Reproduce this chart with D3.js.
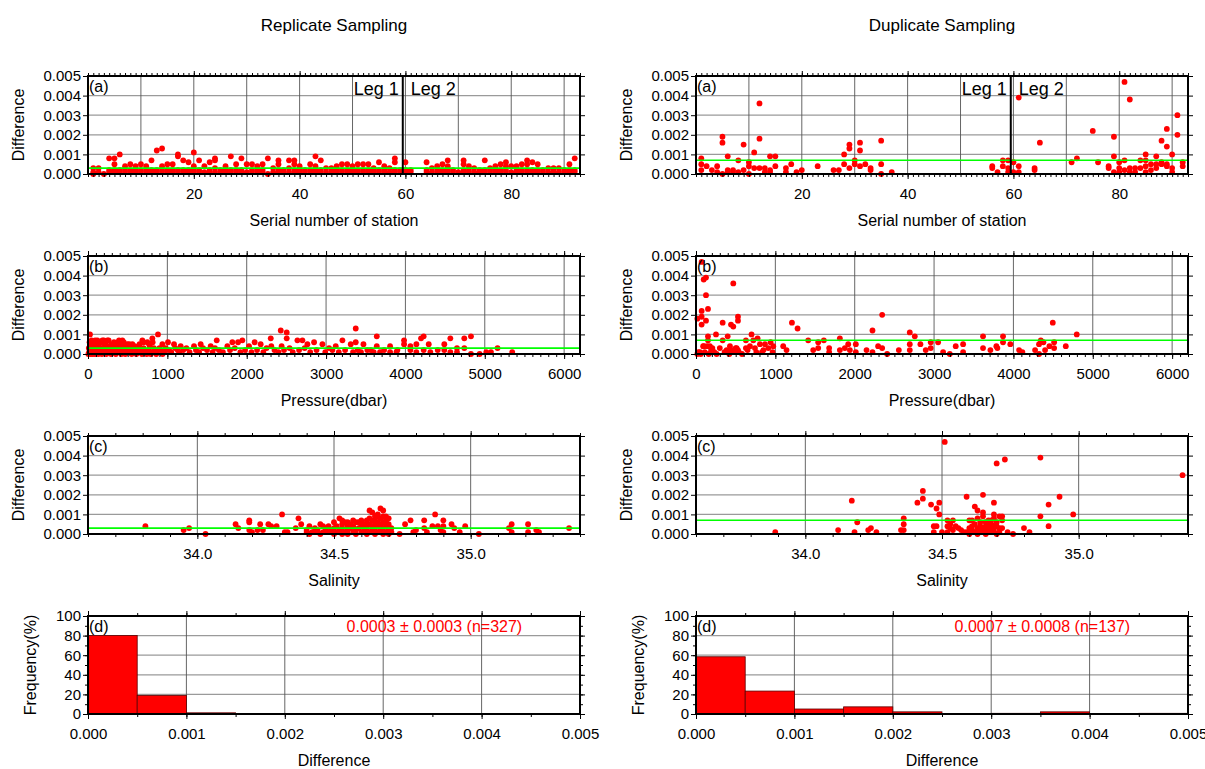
<!DOCTYPE html>
<html>
<head>
<meta charset="utf-8">
<script src="https://cdn.jsdelivr.net/npm/d3@7"></script>
<style>
body { margin: 0; background: #fff; }
</style>
</head>
<body>
<div id="chart"></div>
<script>
// differences are written in units of 1e-4

// replicate sampling: station, then the differences found there
var repStationRows = [
  [1,3,1,0],[2,3,1],[3,0],[4,8,1,2],[5,8,5,1,2],[6,10,2,1],[7,4,1,2],[8,5,2,1],[9,4,1,2],[10,5,2,1],
  [11,4,1,2],[12,7,1,2],[13,12,2,1],[14,13,4,1,2],[15,5,1,2],[16,5,2,1],[17,10,9,2,1],[18,7,2,1],[19,6,1,2],[20,11,4,1,2],
  [21,7,2,1],[22,4,1],[23,6,2,1],[24,8,7,3,1],[25,2,1],[26,4,1,2],[27,9,2,1],[28,5,1,2],[29,8,2,1],[30,5,1],
  [31,5,2,1],[32,4,1,2],[33,5,2,1],[34,8,0],[35,3,1],[36,7,5,2,1],[37,2,1],[38,7,3,1],[39,7,5,2,1],[40,4,1,2],
  [41,2,1],[42,5,2,1],[43,9,4,2,1],[44,7,2,1],[45,3,1],[46,3,2,1],[47,4,1,2],[48,5,2,1],[49,5,1,2],[50,4,2,1],
  [51,5,1,2],[52,5,2,1],[53,5,1,2],[54,3,2,1],[55,6,2,1],[56,4,1,2],[57,3,1],[58,8,6,2,1],[59,1,2],[60,6,1,2],
  [61,2,1],[64,6,2,1],[65,3,1],[66,4,2,1],[67,5,1,2],[68,7,4,2,1],[69,2,1],[70,1],[71,7,5,2,1],[72,4,1,2],
  [73,3,1],[74,2,1],[75,7,2,1],[76,3,1,2],[77,4,2,1],[78,5,1,2],[79,6,4,2,1],[80,4,1],[81,4,2,1],[82,5,1,2],
  [83,7,5,2,1],[84,6,2,1],[85,5,1,2],[86,2,1],[87,3,1],[88,3,1,2],[89,3,1],[90,1,2],[91,5,2,1],[92,8,2,1]
];

// replicate sampling: [pressure (dbar), difference]
var repPressure = [
  [5,0],[10,3],[15,1],[20,6],[25,10],[25,5],[30,2],[35,0],[40,4],[45,7],[50,1],[55,3],[60,0],[65,2],[70,6],[75,5],[80,1],
  [90,7],[90,0],[97,5],[100,2],[110,3],[118,7],[125,1],[130,6],[130,0],[140,4],[150,2],[160,6],[170,1],[175,0],[181,7],
  [190,3],[200,2],[200,7],[210,5],[220,1],[225,6],[230,0],[235,3],[244,7],[250,2],[260,7],[265,4],[280,1],[290,0],
  [295,3],[300,5],[310,2],[320,4],[328,6],[340,1],[350,0],[355,4],[370,2],[380,6],[391,7],[400,3],[410,5],[415,1],
  [420,0],[433,7],[445,2],[450,6],[460,4],[470,0],[480,1],[496,5],[510,3],[520,5],[525,2],[540,1],[550,0],[559,5],
  [575,3],[590,4],[600,2],[610,0],[620,1],[640,4],[650,5],[660,2],[680,0],[685,7],[700,3],[700,6],[720,1],[740,0],
  [748,6],[760,2],[770,5],[780,4],[790,0],[800,1],[811,8],[815,6],[830,3],[850,2],[860,0],[870,1],[882,10],[900,3],
  [920,2],[937,5],[940,0],[960,1],[980,3],[1008,6],[1020,2],[1050,1],[1084,5],[1100,3],[1130,2],[1150,1],[1168,4],
  [1200,2],[1240,3],[1280,1],[1336,4],[1360,2],[1400,1],[1420,5],[1450,3],[1500,2],[1546,4],[1570,1],[1600,3],
  [1622,7],[1650,2],[1700,1],[1756,4],[1790,2],[1819,6],[1850,3],[1891,6],[1920,1],[1945,7],[1980,2],[2029,4],
  [2060,1],[2100,6],[2130,2],[2176,5],[2210,1],[2250,3],[2303,8],[2310,4],[2350,2],[2400,1],[2429,12],[2440,4],
  [2470,2],[2504,11],[2504,8],[2540,3],[2580,1],[2639,7],[2660,2],[2702,7],[2730,3],[2765,5],[2800,1],[2849,6],
  [2880,2],[2954,5],[2990,1],[3038,3],[3080,2],[3122,4],[3160,1],[3206,7],[3240,2],[3311,5],[3340,1],[3374,13],
  [3374,6],[3400,2],[3440,1],[3471,5],[3520,2],[3563,2],[3600,1],[3639,9],[3639,4],[3680,1],[3731,2],[3807,4],
  [3807,1],[3887,1],[3899,2],[3983,7],[3983,5],[4063,4],[4063,2],[4138,5],[4138,1],[4197,8],[4230,9],[4230,2],
  [4294,5],[4314,1],[4407,2],[4490,5],[4490,2],[4566,8],[4566,1],[4650,3],[4650,1],[4742,8],[4742,3],[4826,9],
  [4826,0],[4935,0],[5019,1],[5078,1],[5161,3],[5346,1]
];

// replicate sampling: [salinity, difference]
var repSalinity = [
  [33.81,4],[33.95,2],[33.97,3],[34.03,0],[34.14,5],[34.15,3],[34.19,7],[34.19,6],[34.19,2],[34.2,1],[34.22,2],
  [34.23,5],[34.24,2],[34.26,5],[34.27,4],[34.29,4],[34.31,10],[34.32,1],[34.33,1],[34.36,3],[34.37,8],[34.38,5],
  [34.4,2],[34.41,4],[34.42,1],[34.43,3],[34.45,5],[34.46,4],[34.47,2],[34.48,4],[34.5,6],[34.52,8],[34.53,5],
  [34.54,6],[34.55,4],[34.56,5],[34.57,7],[34.59,6],[34.6,6],[34.62,7],[34.63,12],[34.64,11],[34.65,7],[34.66,9],
  [34.67,13],[34.68,9],[34.69,7],[34.7,2],[34.74,0],[34.76,5],[34.78,7],[34.79,1],[34.8,2],[34.83,7],[34.83,3],
  [34.84,1],[34.86,4],[34.87,10],[34.88,4],[34.89,2],[34.9,7],[34.9,4],[34.9,1],[34.93,5],[34.94,3],[34.96,1],
  [34.98,4],[35.03,0],[35.14,3],[35.15,5],[35.15,1],[35.21,5],[35.21,1],[35.24,2],[35.25,1],[35.36,3],
  [34.4,1],[34.41,0],[34.43,1],[34.44,2],[34.45,0],[34.46,1],[34.47,3],[34.48,1],[34.49,2],[34.5,0],[34.5,3],
  [34.51,1],[34.51,4],[34.52,2],[34.53,0],[34.53,3],[34.54,1],[34.55,2],[34.55,0],[34.56,3],[34.57,1],[34.57,4],
  [34.58,2],[34.58,0],[34.59,3],[34.6,1],[34.6,4],[34.61,2],[34.61,5],[34.62,0],[34.62,3],[34.63,1],[34.63,5],
  [34.64,2],[34.64,4],[34.64,7],[34.65,0],[34.65,3],[34.65,5],[34.66,1],[34.66,4],[34.66,6],[34.67,2],[34.67,5],
  [34.67,8],[34.68,0],[34.68,3],[34.68,6],[34.69,1],[34.69,4],[34.69,9],[34.7,0],[34.7,5],[34.71,1],[34.71,3],
  [34.63,8],[34.62,5],[34.66,10],[34.68,12],[34.6,7],[34.58,6],[34.55,6],[34.53,7],[34.65,9],[34.7,8],[34.69,6]
];

// duplicate sampling: station, then the differences found there
var dupStationRows = [
  [1,8,5,2],[2,4],[3,2],[4,4,1],[5,19,16,0],[6,9,2,1],[7,2,1],[8,7,1],[9,15,2],[10,6,4,0],
  [11,11,3],[12,36,18,3],[13,3,1],[14,9,2,1],[15,9,4],[17,3,1],[18,5],[19,1],[20,2],[23,4],
  [26,2],[27,2],[28,10,5],[29,15,13,3],[30,7,5],[31,16,12,4],[32,5],[33,3,2],[35,17,5,0],[37,1],
  [56,4,3],[57,1],[58,7,4],[59,7,3,1],[60,6,1],[61,39,4,1],[64,3,2],[65,16],[71,6],[72,8],
  [75,22],[76,6],[78,4,3],[79,19,9,1],[80,6,3,1],[81,47,7,2],[82,38,3,1],[83,3,1],[84,7,3],[85,10,7,4,1],
  [86,5,2],[87,9,5,3],[88,17,6,5],[89,23,14,5,4],[90,10,3,1],[91,30,20],[92,6,4]
];

// duplicate sampling: [pressure (dbar), difference]
var dupPressure = [
  [17,18],[17,0],[30,1],[50,1],[60,0],[71,47],[71,22],[71,19],[71,15],[90,4],[97,38],[100,4],[110,1],[126,39],
  [126,30],[126,17],[140,4],[151,23],[151,9],[151,7],[160,0],[175,4],[190,2],[206,3],[220,1],[231,1],[252,10],
  [260,0],[300,3],[336,16],[336,7],[360,1],[386,2],[399,9],[420,0],[428,4],[441,15],[450,2],[470,14],[470,36],
  [480,1],[500,3],[512,3],[529,19],[529,17],[529,2],[540,1],[580,0],[629,7],[629,3],[650,2],[680,4],[700,10],
  [722,7],[743,3],[760,1],[776,8],[806,5],[831,1],[850,2],[869,5],[911,3],[940,6],[965,1],[974,4],[1099,4],
  [1141,2],[1209,16],[1280,13],[1414,7],[1477,2],[1540,6],[1540,3],[1611,7],[1678,3],[1678,1],[1813,8],[1813,2],
  [1876,3],[1918,5],[1939,2],[2014,5],[2014,1],[2149,2],[2224,12],[2224,1],[2295,4],[2346,20],[2346,3],[2409,0],
  [2556,2],[2694,11],[2694,5],[2694,2],[2757,9],[2828,5],[2895,2],[2958,6],[2958,3],[3051,6],[3114,1],[3198,0],
  [3273,4],[3366,5],[3366,1],[3617,9],[3617,3],[3710,2],[3785,4],[3798,3],[3869,9],[3869,6],[3961,5],[4071,2],
  [4113,1],[4273,2],[4323,5],[4323,0],[4345,7],[4378,6],[4399,2],[4454,4],[4496,16],[4513,6],[4513,3],[4660,4],
  [4798,10]
];

// duplicate sampling: [salinity, difference]
var dupSalinity = [
  [33.89,1],[34.12,2],[34.17,17],[34.18,1],[34.19,6],[34.23,2],[34.24,3],[34.26,1],[34.35,2],[34.36,2],[34.36,8],
  [34.36,5],[34.41,16],[34.43,22],[34.43,18],[34.46,15],[34.47,4],[34.47,1],[34.48,13],[34.48,4],[34.49,10],
  [34.49,16],[34.51,47],[34.52,4],[34.52,1],[34.52,7],[34.53,5],[34.54,7],[34.54,2],[34.55,4],[34.57,2],[34.59,19],
  [34.59,1],[34.6,7],[34.6,3],[34.61,4],[34.62,14],[34.63,8],[34.63,12],[34.64,2],[34.65,11],[34.65,20],[34.65,9],
  [34.66,4],[34.67,7],[34.67,1],[34.68,5],[34.69,10],[34.69,16],[34.7,36],[34.7,4],[34.71,9],[34.71,3],[34.73,38],
  [34.74,1],[34.76,0],[34.8,3],[34.82,1],[34.86,39],[34.86,9],[34.89,15],[34.89,4],[34.93,19],[34.98,10],[35.38,30],
  [34.6,0],[34.61,2],[34.62,1],[34.62,5],[34.63,3],[34.63,0],[34.64,4],[34.64,6],[34.65,1],[34.65,3],[34.66,0],
  [34.66,6],[34.67,3],[34.67,5],[34.68,1],[34.68,7],[34.69,2],[34.69,4],[34.7,0],[34.7,6],[34.71,1],[34.72,9],
  [34.72,7],[34.72,3],[34.61,7],[34.64,1],[34.66,2],[34.68,3],[34.69,8],[34.58,1],[34.56,3],[34.5,1],[34.53,3]
];

// histograms: bin starts (width 0.0005) and frequency (%)
var binStarts = [0, 0.0005, 0.001, 0.0015, 0.002, 0.0025, 0.003, 0.0035, 0.004, 0.0045];
var repFreq = [80.1, 19.0, 1.2, 0, 0, 0, 0, 0, 0, 0];
var dupFreq = [58.4, 23.4, 5.1, 7.3, 2.2, 0, 0.7, 2.2, 0, 0.7];

var repMean = 0.0003, dupMean = 0.0007;
var repStats = "0.0003 \u00b1 0.0003 (n=327)";
var dupStats = "0.0007 \u00b1 0.0008 (n=137)";
var legSplit = 59.5;

var FONT = '"Liberation Sans", Arial, Helvetica, sans-serif';
var colX = [88, 696], rowY = [76, 256, 436, 616];
var pw = 492, ph = 98;
var tickFont = 15;

var svg = d3.select("#chart").append("svg")
    .attr("width", 1205)
    .attr("height", 769)
    .style("font-family", FONT);

function rowsToPoints(rows) {
    var out = [];
    rows.forEach(function(r) {
        r.slice(1).forEach(function(d) { out.push([r[0], d]); });
    });
    return out;
}

function fixAxis(sel, size) {
    sel.attr("font-family", FONT).attr("font-size", size);
    sel.select(".domain").remove();
    return sel;
}

function frame(col, row, x, y, opt) {
    var g = svg.append("g")
        .attr("transform", "translate(" + colX[col] + "," + rowY[row] + ")");

    g.append("g").selectAll("line")
        .data(opt.yGrid)
        .enter()
        .append("line")
        .attr("x1", 0).attr("x2", pw)
        .attr("y1", function(d){return y(d)}).attr("y2", function(d){return y(d)})
        .attr("stroke", "#9a9a9a")
        .attr("stroke-width", 1.3);

    g.append("g").selectAll("line")
        .data(opt.xGrid)
        .enter()
        .append("line")
        .attr("x1", function(d){return x(d)}).attr("x2", function(d){return x(d)})
        .attr("y1", 0).attr("y2", ph)
        .attr("stroke", "#555")
        .attr("stroke-width", 0.9);

    var marks = g.append("g");

    // minor and major ticks on all four sides
    fixAxis(g.append("g").attr("transform", "translate(0," + ph + ")")
        .call(d3.axisBottom(x).tickValues(opt.xMinor).tickSize(3).tickFormat("")), 10);
    fixAxis(g.append("g")
        .call(d3.axisTop(x).tickValues(opt.xMinor).tickSize(3).tickFormat("")), 10);
    fixAxis(g.append("g")
        .call(d3.axisTop(x).tickValues(opt.xTicks).tickSize(5).tickFormat("")), 10);
    fixAxis(g.append("g").attr("transform", "translate(0," + ph + ")")
        .call(d3.axisBottom(x).tickValues(opt.xTicks).tickSize(5).tickPadding(9).tickFormat(opt.xFmt)), tickFont);

    if (opt.yMinor) {
        fixAxis(g.append("g")
            .call(d3.axisLeft(y).tickValues(opt.yMinor).tickSize(3).tickFormat("")), 10);
        fixAxis(g.append("g").attr("transform", "translate(" + pw + ",0)")
            .call(d3.axisRight(y).tickValues(opt.yMinor).tickSize(3).tickFormat("")), 10);
    }
    fixAxis(g.append("g").attr("transform", "translate(" + pw + ",0)")
        .call(d3.axisRight(y).tickValues(opt.yTicks).tickSize(5).tickFormat("")), 10);
    fixAxis(g.append("g")
        .call(d3.axisLeft(y).tickValues(opt.yTicks).tickSize(5).tickPadding(2).tickFormat(opt.yFmt)), tickFont);

    g.append("text")
        .attr("x", pw / 2)
        .attr("y", ph + 52)
        .attr("text-anchor", "middle")
        .attr("font-size", 16)
        .text(opt.xTitle);

    g.append("text")
        .attr("transform", "translate(" + opt.yTitleX + "," + (ph / 2) + ") rotate(-90)")
        .attr("text-anchor", "middle")
        .attr("dy", "0.35em")
        .attr("font-size", 16)
        .text(opt.yTitle);

    g.append("text")
        .attr("x", 1)
        .attr("y", 16)
        .attr("font-size", 16)
        .text(opt.letter);

    g.append("rect")
        .attr("class", "frame")
        .attr("width", pw)
        .attr("height", ph)
        .attr("fill", "none")
        .attr("stroke", "#000")
        .attr("stroke-width", 2);

    return {g: g, marks: marks};
}

var diffY = d3.scaleLinear().domain([0, 0.005]).range([ph, 0]);
var diffTicks = [0, 0.001, 0.002, 0.003, 0.004, 0.005];

function scatterPanel(col, row, x, points, mean, opt) {
    opt.yGrid = [0.001, 0.002, 0.003, 0.004];
    opt.yTicks = diffTicks;
    opt.yFmt = d3.format(".3f");
    opt.yTitle = "Difference";
    opt.yTitleX = -70;
    var p = frame(col, row, x, diffY, opt);

    p.marks.selectAll("circle")
        .data(points)
        .enter()
        .append("circle")
        .attr("cx", function(d){return x(d[0])})
        .attr("cy", function(d){return diffY(d[1] / 1e4)})
        .attr("r", 2.9)
        .attr("fill", "#ff0000");

    p.marks.append("line")
        .attr("x1", 0).attr("x2", pw)
        .attr("y1", diffY(mean)).attr("y2", diffY(mean))
        .attr("stroke", "#00ff00")
        .attr("stroke-width", 1.6);
    return p;
}

function stationPanel(col, rows, mean) {
    var x = d3.scaleLinear().domain([0, 93]).range([0, pw]);
    var p = scatterPanel(col, 0, x, rowsToPoints(rows), mean, {
        xGrid: d3.range(10, 93, 10),
        xMinor: d3.range(0, 94, 1),
        xTicks: [20, 40, 60, 80],
        xFmt: d3.format("d"),
        xTitle: "Serial number of station",
        letter: "(a)"
    });
    p.g.insert("line", ".frame")
        .attr("x1", x(legSplit)).attr("x2", x(legSplit))
        .attr("y1", 0).attr("y2", ph)
        .attr("stroke", "#000")
        .attr("stroke-width", 2);
    p.g.append("text")
        .attr("x", x(legSplit) - 4).attr("y", 19)
        .attr("text-anchor", "end")
        .attr("font-size", 18)
        .text("Leg 1");
    p.g.append("text")
        .attr("x", x(legSplit) + 8).attr("y", 19)
        .attr("font-size", 18)
        .text("Leg 2");
}

function pressurePanel(col, points, mean) {
    var x = d3.scaleLinear().domain([0, 6200]).range([0, pw]);
    scatterPanel(col, 1, x, points, mean, {
        xGrid: [1000, 2000, 3000, 4000, 5000, 6000],
        xMinor: d3.range(0, 6201, 100),
        xTicks: [0, 1000, 2000, 3000, 4000, 5000, 6000],
        xFmt: d3.format("d"),
        xTitle: "Pressure(dbar)",
        letter: "(b)"
    });
}

function salinityPanel(col, points, mean) {
    var x = d3.scaleLinear().domain([33.6, 35.4]).range([0, pw]);
    scatterPanel(col, 2, x, points, mean, {
        xGrid: [34.0, 34.5, 35.0],
        xMinor: d3.range(33.6, 35.41, 0.1),
        xTicks: [34.0, 34.5, 35.0],
        xFmt: d3.format(".1f"),
        xTitle: "Salinity",
        letter: "(c)"
    });
}

function histPanel(col, freq, stats) {
    var x = d3.scaleLinear().domain([0, 0.005]).range([0, pw]);
    var y = d3.scaleLinear().domain([0, 100]).range([ph, 0]);
    var p = frame(col, 3, x, y, {
        xGrid: [0.001, 0.002, 0.003, 0.004],
        xMinor: d3.range(0, 0.00501, 0.0005),
        xTicks: diffTicks,
        xFmt: d3.format(".3f"),
        yGrid: [20, 40, 60, 80],
        yMinor: d3.range(0, 101, 10),
        yTicks: [0, 20, 40, 60, 80, 100],
        yFmt: d3.format("d"),
        xTitle: "Difference",
        yTitle: "Frequency(%)",
        yTitleX: -58,
        letter: "(d)"
    });

    p.marks.selectAll("rect")
        .data(binStarts.map(function(b, i){return {b: b, f: freq[i]}}).filter(function(d){return d.f > 0}))
        .enter()
        .append("rect")
        .attr("x", function(d){return x(d.b)})
        .attr("y", function(d){return y(d.f)})
        .attr("width", x(0.0005) - x(0))
        .attr("height", function(d){return y(0) - y(d.f)})
        .attr("fill", "#ff0000")
        .attr("stroke", "#5a0000")
        .attr("stroke-width", 0.8);

    p.g.append("text")
        .attr("x", x(0.00352))
        .attr("y", 16)
        .attr("text-anchor", "middle")
        .attr("font-size", 16)
        .attr("fill", "#ff0000")
        .text(stats);
}

stationPanel(0, repStationRows, repMean);
stationPanel(1, dupStationRows, dupMean);
pressurePanel(0, repPressure, repMean);
pressurePanel(1, dupPressure, dupMean);
salinityPanel(0, repSalinity, repMean);
salinityPanel(1, dupSalinity, dupMean);
histPanel(0, repFreq, repStats);
histPanel(1, dupFreq, dupStats);

svg.append("text")
    .attr("x", colX[0] + pw / 2).attr("y", 31)
    .attr("text-anchor", "middle")
    .attr("font-size", 17)
    .text("Replicate Sampling");
svg.append("text")
    .attr("x", colX[1] + pw / 2).attr("y", 31)
    .attr("text-anchor", "middle")
    .attr("font-size", 17)
    .text("Duplicate Sampling");
</script>
</body>
</html>
